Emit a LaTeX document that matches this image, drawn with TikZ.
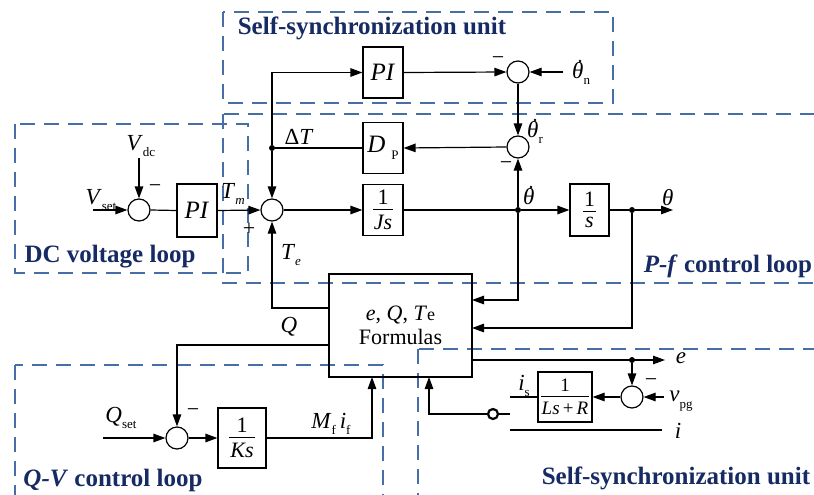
\documentclass[tikz,border=0pt]{standalone}
\usepackage{fontspec}
\setmainfont{Liberation Serif}
\usetikzlibrary{arrows.meta}
\definecolor{dashblue}{RGB}{72,110,168}
\definecolor{navy}{RGB}{22,42,100}
\newcommand\sbs[1]{\raisebox{-0.28em}{\fontsize{13}{13}\selectfont #1}}
\newcommand\fr[2]{\ensuremath{\vcenter{\hbox{\setbox0\hbox{#1}\setbox2\hbox{#2}%
  \dimen0=\ifdim\wd0>\wd2 \wd0\else\wd2\fi \advance\dimen0 by 2pt
  \vbox{\hbox to\dimen0{\hss\box0\hss}\kern4.5pt\hrule height0.9pt\kern5pt\hbox to\dimen0{\hss\box2\hss}}}}}}
\tikzset{
 ln/.style={line width=1.2pt, black},
 arr/.style={ln, -{Triangle[length=12pt,width=8.5pt]}},
 blk/.style={draw, line width=1.2pt, inner sep=0pt, minimum width=40pt, minimum height=51pt, font=\fontsize{25}{28}\selectfont},
 sumc/.style={draw, circle, line width=1.2pt, minimum size=22pt, inner sep=0pt},
 jdot/.style={fill, circle, inner sep=0pt, minimum size=6pt},
 region/.style={draw=dashblue, dash pattern=on 15pt off 9pt, line width=1.4pt},
 title/.style={text=navy, font=\fontsize{25}{28}\selectfont\bfseries, inner sep=0pt},
 lbl/.style={font=\fontsize{23}{26}\selectfont, inner sep=0pt},
 sgn/.style={font=\fontsize{22}{24}\selectfont, inner sep=0pt},
 term/.style={line width=2.6pt},
 frb/.style={font=\fontsize{22}{24}\selectfont},
}
\begin{document}
\begin{tikzpicture}[x=1pt,y=-1pt]
\useasboundingbox (0,0) rectangle (814,495);
\clip (0,0) rectangle (814,495);
% dashed regions
\draw[region] (223,12) rectangle (613,103);
\draw[region] (223,114) rectangle (818,283);
\draw[region] (15,124) rectangle (248,273);
\draw[region] (15,365) rectangle (383,505);
\draw[region] (418,349) rectangle (822,505);
% region titles
\node[title] (t1) at (372,28) {Self-synchronization unit};
\node[title] (t2) at (110,257) {DC voltage loop};
\node[title] (t3) at (728,266) {\textit{P-f} control loop};
\node[title] (t4) at (113,480) {\textit{Q-V} control loop};
\node[title] (t5) at (676,478) {Self-synchronization unit};
% blocks
\node[blk] (pi2) at (383,72.5) {\textit{PI}};
\node[blk] (dp) at (383,148) {\textit{D}\hspace{6pt}\raisebox{-7pt}{\fontsize{13}{13}\selectfont P}};
\node[blk, frb] (js) at (383,210) {\fr{1}{\textit{Js}}};
\node[blk, minimum height=53pt] (pi1) at (197,210.5) {\textit{PI}};
\node[blk, frb, minimum width=39pt, minimum height=52pt] (is) at (589.5,210) {\fr{1}{\textit{s}}};
\node[blk, minimum width=143pt, minimum height=103pt, align=center, font=\fontsize{22}{23}\selectfont] (fm) at (400.5,325.5) {\textit{e}, \textit{Q}, \textit{T}{\fontsize{18}{18}\selectfont e}\\[1pt]Formulas};
\node[blk, frb, minimum width=48pt, minimum height=60pt] (ks) at (242,438) {\fr{1}{\textit{Ks}}};
\node[blk, font=\fontsize{19}{20}\selectfont, minimum width=54pt, minimum height=50pt] (lr) at (565,397) {\fr{1}{\textit{Ls}\,+\,\textit{R}}};
% summing junctions
\node[sumc] (s1) at (272,210) {};
\node[sumc] (sdc) at (139,210) {};
\node[sumc] (st) at (518,72) {};
\node[sumc] (sr) at (518,147) {};
\node[sumc] (sq) at (177,438) {};
\node[sumc] (sb) at (632,397) {};
% dots
\node[jdot] (dT) at (272,148) {};
\node[jdot] (dth) at (518,210) {};
\node[jdot] (dtt) at (632,210) {};
\node[jdot] (de) at (632,360) {};
% coordinates
\coordinate (vdcin) at (139,158);
\coordinate (vsetin) at (93,210);
\coordinate (thnin) at (563,72);
\coordinate (thout) at (673,210);
\coordinate (fin1) at (472,300);
\coordinate (fin2) at (472,328);
\coordinate (fout1) at (329,308);
\coordinate (fout2) at (329,345);
\coordinate (fout3) at (472,360);
\coordinate (eout) at (665,360);
\coordinate (fin3) at (372,377);
\coordinate (fin4) at (429,377);
\coordinate (qsetin) at (103,438);
\coordinate (vpgin) at (664,397);
\coordinate (tupa) at (527,397);
\coordinate (tupb) at (510,397);
\coordinate (tdna) at (510,430);
\coordinate (tdnb) at (527,430);
\coordinate (iend) at (662,430);
\coordinate (swl) at (476,414);
\coordinate (swr) at (510,414);
\node[draw, circle, line width=2.2pt, minimum size=10pt, inner sep=0pt] (sw) at (493,414) {};
% connectors
\draw[ln] (sdc.east) -- (pi1.west);
\draw[arr] (vsetin) -- (sdc.west);
\draw[arr] (vdcin) -- (sdc.north);
\draw[arr] (pi1.east) -- (s1.west);
\draw[arr] (s1.east) -- (js.west);
\draw[ln] (js.east) -- (dth);
\draw[arr] (dth) -- (is.west);
\draw[ln] (is.east) -- (dtt);
\draw[arr] (dtt) -- (thout);
\draw[ln] (dp.west) -- (dT);
\draw[arr] (dT) -- (s1.north);
\draw[arr] (dT) |- (pi2.west);
\draw[arr] (pi2.east) -- (st.west);
\draw[arr] (thnin) -- (st.east);
\draw[arr] (st.south) -- (sr.north);
\draw[arr] (sr.west) -- (dp.east);
\draw[arr] (dth) -- (sr.south);
\draw[arr] (dth) |- (fin1);
\draw[arr] (dtt) |- (fin2);
\draw[arr] (fout1) -| (s1.south);
\draw[arr] (fout2) -| (sq.north);
\draw[arr] (qsetin) -- (sq.west);
\draw[arr] (sq.east) -- (ks.west);
\draw[arr] (ks.east) -| (fin3);
\draw[arr] (fout3) -- (eout);
\draw[arr] (de) -- (sb.north);
\draw[arr] (vpgin) -- (sb.east);
\draw[arr] (sb.west) -- (lr.east);
\draw[ln] (lr.west) -- (tupa);
\draw[term] (tupa) -- (tupb);
\draw[term] (tdna) -- (tdnb);
\draw[ln] (tdnb) -- (iend);
\draw[term] (swl) -- (sw.west);
\draw[ln] (sw.east) -- (swr);
\draw[arr] (swl) -| (fin4);
% labels
\node[lbl] (lvdc) at (141,146) {\textit{V}\sbs{dc}};
\node[lbl] (lvset) at (101,200) {\textit{V}\sbs{set}};
\node[sgn] (m1) at (155,189) {−};
\node[lbl] (ltm) at (233,194) {\textit{T}\sbs{\textit{m}}};
\node[sgn] (p1) at (249,229) {+};
\node[lbl] (ldt) at (299,137) {Δ\textit{T}};
\node[lbl] (lte) at (291,255) {\textit{T}\sbs{\textit{e}}};
\node[lbl] (lq) at (289,327) {\textit{Q}};
\node[lbl] (lqs) at (121,418) {\textit{Q}\sbs{set}};
\node[sgn] (m2) at (193,413) {−};
\node[lbl] (lmf) at (331,424) {\textit{M}\sbs{f}\,\textit{i}\sbs{f}};
\node[sgn] (m3) at (498,61) {−};
\node[lbl, anchor=base west] (lthn) at (572,78) {\textit{θ}\sbs{n}};
\fill (580,61) circle (1.4pt);
\node[lbl, anchor=base west] (lthr) at (527,137) {\textit{θ}\sbs{r}};
\fill (535,120) circle (1.4pt);
\node[sgn] (m4) at (506,166) {−};
\node[lbl, anchor=base west] (lth1) at (523,204) {\textit{θ}};
\fill (531,187) circle (1.4pt);
\node[lbl, anchor=base west] (lth) at (662,205) {\textit{θ}};
\node[lbl] (le) at (681,358) {\textit{e}};
\node[lbl] (lis) at (524,386) {\textit{i}\sbs{s}};
\node[sgn] (m5) at (651,383) {−};
\node[lbl] (lvpg) at (681,401) {\textit{v}\sbs{pg}};
\node[lbl] (li) at (678,431) {\textit{i}};
\end{tikzpicture}
\end{document}
